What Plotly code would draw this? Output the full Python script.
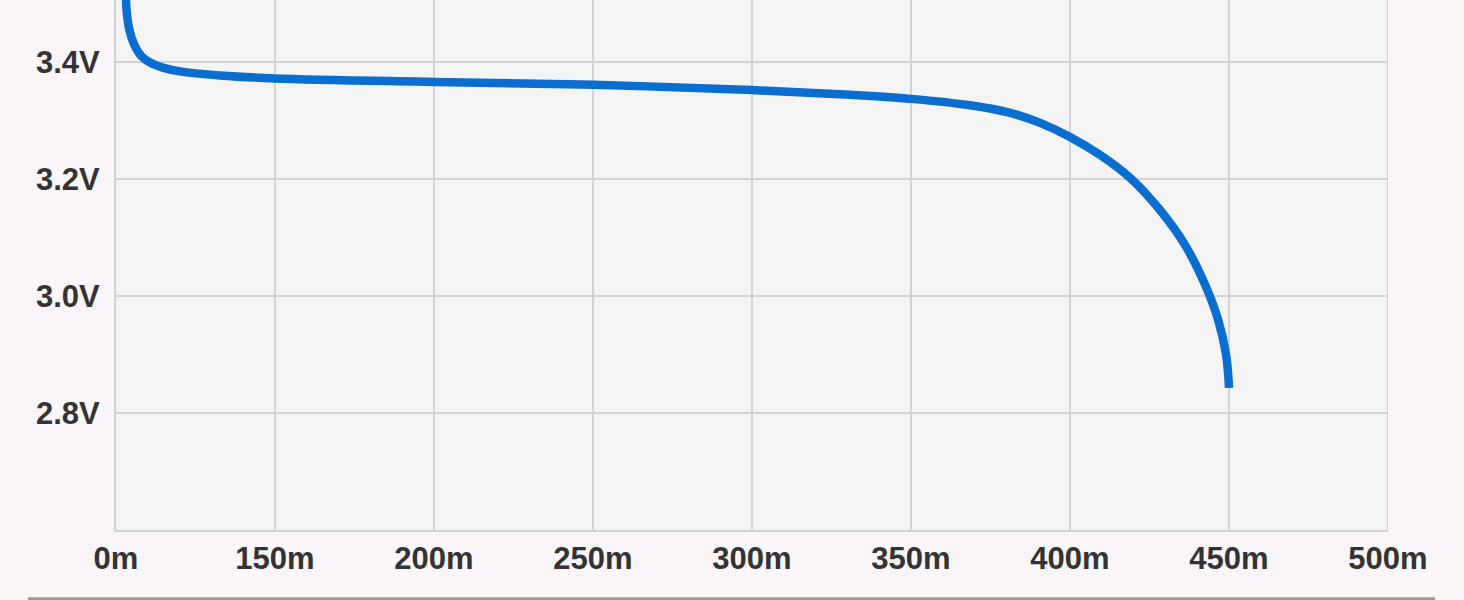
import plotly.graph_objects as go

# Discharge curve (x in axis position units; tick labels below)
time_pos = [103.0, 103.3, 104.2, 105.7, 108.0, 110.7, 115.0, 120.1, 132.7, 150.0, 200.0,
            250.0, 300.0, 330.8, 350.0, 368.6, 381.2, 390.6, 400.0, 409.5, 418.9, 428.3,
            436.2, 442.5, 446.6, 449.1, 450.0]
voltage = [3.54, 3.49, 3.455, 3.43, 3.41, 3.399, 3.39, 3.384, 3.377, 3.372, 3.366,
           3.361, 3.352, 3.344, 3.337, 3.326, 3.313, 3.296, 3.272, 3.241, 3.202, 3.147,
           3.087, 3.019, 2.959, 2.899, 2.843]

x_tickvals = [100, 150, 200, 250, 300, 350, 400, 450, 500]
x_ticktext = ["0m", "150m", "200m", "250m", "300m", "350m", "400m", "450m", "500m"]
y_tickvals = [2.8, 3.0, 3.2, 3.4]
y_ticktext = ["2.8V", "3.0V", "3.2V", "3.4V"]

fig = go.Figure()
fig.add_trace(go.Scatter(
    x=time_pos, y=voltage, mode="lines",
    line=dict(color="#0a6dd0", width=8.5, shape="spline", smoothing=1.0),
    hoverinfo="skip", showlegend=False,
))

grid = "#d2d2d2"
tfont = dict(family="Liberation Sans, Arial, sans-serif", size=31, color="#333333", weight="bold")
fig.update_layout(
    width=1464, height=600,
    margin=dict(l=116, r=76, t=0, b=70),
    paper_bgcolor="#f9f5f9",
    plot_bgcolor="#f4f4f4",
    font=dict(family="Liberation Sans, Arial, sans-serif", size=31, color="#333333"),
    xaxis=dict(
        range=[100, 500], tickvals=x_tickvals, ticktext=x_ticktext,
        showgrid=True, gridcolor=grid, gridwidth=1.5, zeroline=False,
        showline=True, linecolor=grid, linewidth=2,
        ticks="", ticklabelstandoff=0, tickfont=tfont,
    ),
    yaxis=dict(
        range=[2.6, 3.506], tickvals=y_tickvals, ticktext=y_ticktext,
        showgrid=True, gridcolor=grid, gridwidth=2, zeroline=False,
        showline=True, linecolor=grid, linewidth=2,
        ticks="", ticklabelstandoff=8, tickfont=tfont,
    ),
    shapes=[
        dict(type="line", xref="x", yref="paper", x0=500, x1=500, y0=0, y1=1,
             line=dict(color=grid, width=2), layer="below"),
        dict(type="line", xref="paper", yref="paper", x0=-0.0692, x1=1.037, y0=-0.1295, y1=-0.1295,
             line=dict(color="#9a9a9a", width=3)),
    ],
)

fig.write_html("out.html", config={"displayModeBar": False},
               post_script="document.body.style.margin='0';document.body.style.overflow='hidden';")
